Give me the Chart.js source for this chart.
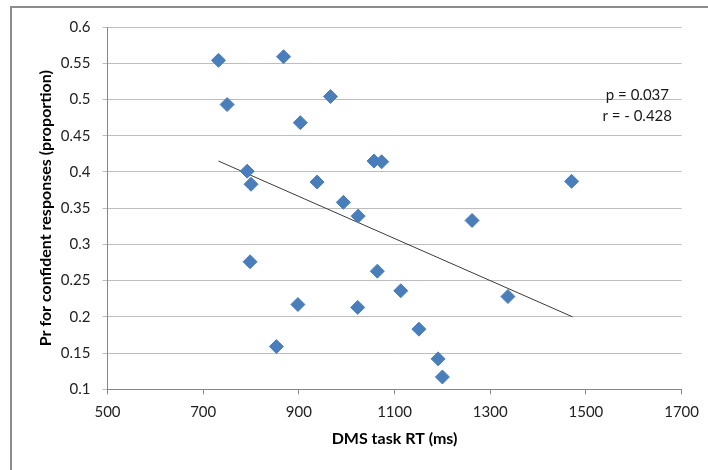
<!DOCTYPE html>
<html>
<head>
<meta charset="utf-8">
<script src="https://cdn.jsdelivr.net/npm/chart.js@4/dist/chart.umd.min.js"></script>
<style>
  html, body { margin: 0; padding: 0; background: #fff; }
  #wrap { width: 708px; height: 470px; }
</style>
</head>
<body>
<div id="wrap"><canvas id="myChart" width="708" height="470"></canvas></div>
<script>
// DMS task RT (ms) vs. Pr for confident responses
const rtValues = [732, 750, 792, 798, 800, 853, 868, 898, 903, 938, 966, 993, 1023, 1024, 1057, 1064, 1073, 1113, 1151, 1191, 1200, 1262, 1337, 1470];
const prValues = [0.554, 0.493, 0.401, 0.276, 0.383, 0.159, 0.559, 0.217, 0.468, 0.386, 0.504, 0.358, 0.213, 0.339, 0.415, 0.263, 0.414, 0.236, 0.183, 0.142, 0.117, 0.333, 0.228, 0.387];

// trend line end points
const trendX = [732, 1472];
const trendY = [0.415, 0.200];

const xTicks = [500, 700, 900, 1100, 1300, 1500, 1700];
const yTicks = [0.1, 0.15, 0.2, 0.25, 0.3, 0.35, 0.4, 0.45, 0.5, 0.55, 0.6];

const statsText = ['p = 0.037', 'r = - 0.428'];

const FONT = 'Lato, "Liberation Sans", sans-serif';

const points = rtValues.map((x, i) => ({ x: x, y: prValues[i] }));
const trend = trendX.map((x, i) => ({ x: x, y: trendY[i] }));

const frame = {
    id: 'frame',
    beforeDraw(chart) {
        const c = chart.ctx;
        c.save();
        c.strokeStyle = '#8c8c8c';
        c.lineWidth = 2;
        c.strokeRect(11, 7, 800, 800);
        c.restore();
    },
    afterDraw(chart) {
        const c = chart.ctx;
        c.save();
        c.fillStyle = '#1a1a1a';
        c.font = '15px ' + FONT;
        c.textAlign = 'right';
        c.textBaseline = 'middle';
        c.fillText(statsText[0], 669, 95);
        c.fillText(statsText[1], 672, 116);
        c.restore();
    }
};

const ctx = document.getElementById('myChart').getContext('2d');
const chart = new Chart(ctx, {
    type: 'scatter',
    data: {
        datasets: [{
            label: 'Pr',
            data: points,
            pointStyle: 'rectRot',
            pointRadius: 7,
            pointHoverRadius: 7,
            backgroundColor: '#4a7ebb',
            borderColor: '#4a7ebb',
            borderWidth: 1
        }, {
            label: 'trend',
            type: 'line',
            data: trend,
            borderColor: '#3a3a3a',
            borderWidth: 1,
            pointRadius: 0,
            fill: false
        }]
    },
    options: {
        responsive: false,
        animation: false,
        layout: { padding: { top: 27, right: 25, left: 0, bottom: 0 } },
        plugins: {
            legend: { display: false },
            tooltip: { enabled: false }
        },
        scales: {
            x: {
                type: 'linear',
                min: 500,
                max: 1700,
                afterBuildTicks: (s) => { s.ticks = xTicks.map(v => ({ value: v })); },
                afterFit: (s) => { s.height = 80.7; },
                grid: { drawOnChartArea: false, drawTicks: true, tickLength: 5, color: '#868686' },
                border: { color: '#868686' },
                ticks: {
                    color: '#222',
                    font: { family: FONT, size: 15 },
                    padding: 9,
                    callback: (v) => String(v)
                },
                title: {
                    display: true,
                    text: 'DMS task RT (ms)',
                    color: '#000',
                    font: { family: FONT, size: 16, weight: 'bold' },
                    padding: { top: 0, bottom: 22 }
                }
            },
            y: {
                type: 'linear',
                min: 0.1,
                max: 0.6,
                afterBuildTicks: (s) => { s.ticks = yTicks.map(v => ({ value: v })); },
                afterFit: (s) => { s.width = 107.5; },
                grid: { color: '#bdbdbd', tickLength: 5 },
                border: { color: '#868686' },
                ticks: {
                    color: '#222',
                    font: { family: FONT, size: 15 },
                    padding: 12,
                    callback: (v) => String(Math.round(v * 100) / 100)
                },
                title: {
                    display: true,
                    text: 'Pr for confident responses (proportion)',
                    color: '#000',
                    font: { family: FONT, size: 16, weight: 'bold' },
                    padding: { top: 36, bottom: 0 }
                }
            }
        }
    },
    plugins: [frame]
});
</script>
</body>
</html>
